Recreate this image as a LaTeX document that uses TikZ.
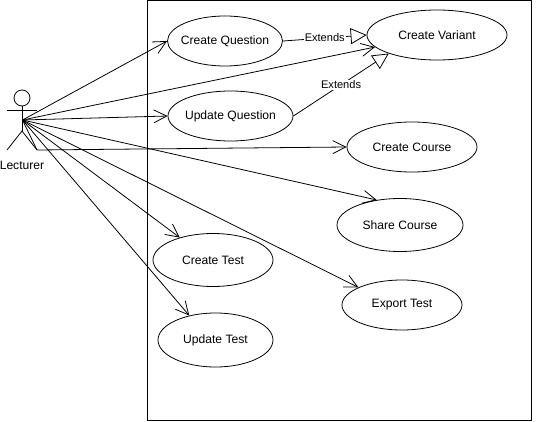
\documentclass[tikz,border=0pt]{standalone}
\usepackage{fontspec}
\setmainfont{Liberation Sans}
\usetikzlibrary{arrows.meta,shapes.geometric}
\tikzset{
	usecase/.style={draw, ellipse, inner ysep=0, inner xsep=-0.3cm, yshift=-0.02cm, font=\fontsize{6.9}{8}\selectfont},
	assoc/.style={-{Straight Barb[length=0.26cm, width=0.26cm]}},
	extends/.style={-{Triangle[open, length=0.32cm, width=0.32cm]}},
	extendslabel/.style={fill=white, inner sep=0.5pt, font=\fontsize{6.3}{8}\selectfont}
}

\begin{document}
\begin{tikzpicture}[line width=0.45pt]
			%%%%% START %%%%%
			
			\useasboundingbox (0, 0) rectangle (10.76, 8.42);
			\draw (2.94, 0.02) rectangle (10.62, 8.41);
			
			\node[usecase, minimum width=2.3cm, minimum height=1cm] (createQuestion) at (4.5, 7.62) {Create Question};
			\node[usecase, minimum width=2.8cm, minimum height=1cm] (createVariant) at (8.74, 7.74) {Create Variant};
			\node[usecase, minimum width=2.5cm, minimum height=1cm] (updateQuestion) at (4.61, 6.12) {Update Question};
			\node[usecase, minimum width=2.6cm, minimum height=1cm] (createCourse) at (8.24, 5.5) {Create Course};
			\node[usecase, minimum width=2.52cm, minimum height=1.06cm] (shareCourse) at (8.0, 3.94) {Share Course};
			\node[usecase, minimum width=2.4cm, minimum height=1.06cm] (createTest) at (4.26, 3.24) {Create Test};
			\node[usecase, minimum width=2.4cm, minimum height=1cm] (exportTest) at (8.04, 2.34) {Export Test};
			\node[usecase, minimum width=2.3cm, minimum height=1.08cm] (updateTest) at (4.31, 1.64) {Update Test};
			
			\node[draw, circle, minimum size=0.32cm, inner sep=0] (head) at (0.44, 6.46) {};
			\coordinate (hip) at (0.45, 6.02);
			\coordinate (seat) at (0.44, 5.8);
			\draw (head) -- (seat);
			\draw (0.14, 6.22) -- (0.74, 6.22);
			\draw (0.14, 5.42) -- (seat) -- (0.74, 5.42);
			\node[font=\fontsize{6.9}{8}\selectfont] (lecturer) at (0.44, 5.12) {Lecturer};
			
			\draw[assoc] (hip) -- (createQuestion.west);
			\draw[assoc] (hip) -- (createVariant.191);
			\draw[assoc] (hip) -- (updateQuestion.west);
			\draw[assoc] (hip) -- (0.74, 5.42) -- (createCourse.west);
			\draw[assoc] (hip) -- (shareCourse.133);
			\draw[assoc] (hip) -- (exportTest.158);
			\draw[assoc] (hip) -- (createTest.146);
			\draw[assoc] (hip) -- (updateTest.137);
			
			\draw[extends] (createQuestion.east) -- (createVariant.west) node[extendslabel, midway] (extendsTop) {Extends};
			\draw[extends] (updateQuestion.east) -- (createVariant.201) node[extendslabel, midway] (extendsBottom) {Extends};
			
			%%%%% END %%%%%
		\end{tikzpicture}
\end{document}
